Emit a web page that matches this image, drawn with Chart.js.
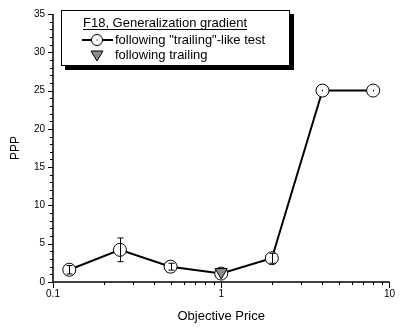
<!DOCTYPE html>
<html>
<head>
<meta charset="utf-8">
<script src="https://cdn.jsdelivr.net/npm/chart.js@4/dist/chart.umd.min.js"></script>
<style>
  html, body { margin: 0; padding: 0; background: #fff; }
  #wrap { width: 401px; height: 333px; }
</style>
</head>
<body>
<div id="wrap"><canvas id="chart" width="401" height="333"></canvas></div>
<script>
// --- data ---
const prices = [0.125, 0.25, 0.5, 1, 2, 4, 8];
const pppLikeTest = [1.6, 4.2, 2.0, 1.1, 3.1, 25, 25];
const pppLikeTestErr = [0.55, 1.55, 0.45, 0.3, 0.65, 0.1, 0.1];
const trailingPrices = [1];
const pppTrailing = [1.3];
const xTickLabels = [0.1, 1, 10];
const yMax = 35;

const legendTitle = 'F18, Generalization gradient';
const legendLabels = ['following "trailing"-like test', 'following trailing'];

const FONT = 'Arial, "Liberation Sans", sans-serif';

// axes, ticks, error bars, legend box
const figurePlugin = {
    id: 'figure',
    beforeDatasetsDraw(chart) {
        const ctx = chart.ctx;
        const x = chart.scales.x, y = chart.scales.y;
        const a = chart.chartArea;
        ctx.save();
        ctx.strokeStyle = '#000';
        ctx.lineWidth = 1.5;
        ctx.beginPath();
        ctx.moveTo(a.left, a.top);
        ctx.lineTo(a.left, a.bottom);
        ctx.lineTo(a.right, a.bottom);
        ctx.stroke();
        ctx.lineWidth = 1;
        // y ticks (major every 5, minor every 1)
        for (let v = 0; v <= yMax; v++) {
            const py = Math.round(y.getPixelForValue(v)) + 0.5;
            const len = v % 5 === 0 ? 5 : 3;
            ctx.beginPath();
            ctx.moveTo(a.left, py);
            ctx.lineTo(a.left - len, py);
            ctx.stroke();
        }
        // x ticks (log decades)
        for (let d = 0.1; d < 10; d *= 10) {
            for (let m = 1; m <= 10; m++) {
                const v = d * m;
                if (v > 10.0001) continue;
                const px = Math.round(x.getPixelForValue(v)) + 0.5;
                const len = (m === 1 || m === 10) ? 6 : 3;
                ctx.beginPath();
                ctx.moveTo(px, a.bottom);
                ctx.lineTo(px, a.bottom + len);
                ctx.stroke();
            }
        }
        ctx.restore();
    },
    afterDatasetDraw(chart, args) {
        if (args.index !== 1) return;
        const ctx = chart.ctx;
        const x = chart.scales.x, y = chart.scales.y;
        ctx.save();
        ctx.strokeStyle = '#000';
        ctx.lineWidth = 1;
        prices.forEach((p, i) => {
            const px = Math.round(x.getPixelForValue(p)) + 0.5;
            const top = y.getPixelForValue(pppLikeTest[i] + pppLikeTestErr[i]);
            const bot = y.getPixelForValue(pppLikeTest[i] - pppLikeTestErr[i]);
            ctx.beginPath();
            ctx.moveTo(px, top);
            ctx.lineTo(px, bot);
            if (bot - top > 5) {
                ctx.moveTo(px - 3, top);
                ctx.lineTo(px + 3, top);
                ctx.moveTo(px - 3, bot);
                ctx.lineTo(px + 3, bot);
            }
            ctx.stroke();
        });
        ctx.restore();
    },
    afterDraw(chart) {
        const ctx = chart.ctx;
        const bx = 61, by = 10, bw = 229, bh = 56;
        ctx.save();
        // shadow
        ctx.fillStyle = '#000';
        ctx.fillRect(bx + 4, by + bh, bw, 4);
        ctx.fillRect(bx + bw, by + 4, 4, bh);
        ctx.fillStyle = '#fff';
        ctx.fillRect(bx, by, bw, bh);
        ctx.strokeStyle = '#000';
        ctx.lineWidth = 1;
        ctx.strokeRect(bx + 0.5, by + 0.5, bw - 1, bh - 1);

        ctx.font = '13px ' + FONT;
        ctx.fillStyle = '#000';
        ctx.textBaseline = 'middle';
        ctx.textAlign = 'left';
        ctx.fillText(legendTitle, 83, 23);
        const tw = ctx.measureText(legendTitle).width;
        ctx.fillRect(83, 29, tw, 1);

        // line + circle symbol
        ctx.lineWidth = 2;
        ctx.beginPath();
        ctx.moveTo(82, 40);
        ctx.lineTo(113, 40);
        ctx.stroke();
        ctx.beginPath();
        ctx.arc(97, 40, 5.5, 0, Math.PI * 2);
        ctx.fillStyle = '#fff';
        ctx.fill();
        ctx.lineWidth = 1;
        ctx.stroke();
        ctx.fillStyle = '#000';
        ctx.fillRect(96.5, 39.5, 1, 1);
        ctx.fillText(legendLabels[0], 115, 40);

        // triangle symbol
        ctx.beginPath();
        ctx.moveTo(91, 51);
        ctx.lineTo(103, 51);
        ctx.lineTo(97, 61);
        ctx.closePath();
        ctx.fillStyle = '#8c8c8c';
        ctx.fill();
        ctx.stroke();
        ctx.fillStyle = '#000';
        ctx.fillText(legendLabels[1], 115, 55);
        ctx.restore();
    }
};

new Chart(document.getElementById('chart'), {
    type: 'line',
    data: {
        datasets: [
            {
                label: legendLabels[1],
                data: trailingPrices.map((p, i) => ({ x: p, y: pppTrailing[i] })),
                showLine: false,
                pointStyle: 'triangle',
                rotation: 180,
                pointRadius: 7,
                pointBackgroundColor: '#8c8c8c',
                pointBorderColor: '#000',
                pointBorderWidth: 1,
                order: 0
            },
            {
                label: legendLabels[0],
                data: prices.map((p, i) => ({ x: p, y: pppLikeTest[i] })),
                borderColor: '#000',
                borderWidth: 2,
                tension: 0,
                pointRadius: 6.5,
                pointBackgroundColor: '#fff',
                pointBorderColor: '#000',
                pointBorderWidth: 1,
                order: 1
            }
        ]
    },
    options: {
        responsive: false,
        animation: false,
        layout: { padding: { left: 0, right: 9, top: 11, bottom: 0 } },
        plugins: { legend: { display: false }, tooltip: { enabled: false } },
        scales: {
            x: {
                type: 'logarithmic',
                min: 0.1,
                max: 10,
                grid: { display: false, drawTicks: false },
                border: { display: false },
                ticks: {
                    autoSkip: false,
                    maxRotation: 0,
                    padding: 6,
                    color: '#000',
                    font: { family: FONT, size: 10 },
                    callback: v => xTickLabels.some(t => Math.abs(v - t) / t < 1e-6) ? String(v) : ''
                },
                title: {
                    display: true,
                    text: 'Objective Price',
                    color: '#000',
                    font: { family: FONT, size: 13 },
                    padding: { top: 4, bottom: 9 }
                },
                afterFit: s => { s.height = 51; }
            },
            y: {
                min: 0,
                max: yMax,
                grid: { display: false, drawTicks: false },
                border: { display: false },
                ticks: {
                    stepSize: 5,
                    padding: 8,
                    color: '#000',
                    font: { family: FONT, size: 10 }
                },
                title: {
                    display: true,
                    text: 'PPP',
                    color: '#000',
                    font: { family: FONT, size: 12 },
                    padding: { top: 8, bottom: 4 }
                },
                afterFit: s => { s.width = 53; }
            }
        }
    },
    plugins: [figurePlugin]
});
</script>
</body>
</html>
